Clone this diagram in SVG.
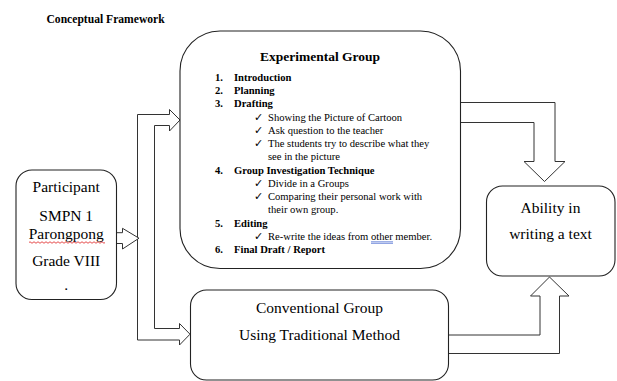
<svg xmlns="http://www.w3.org/2000/svg" width="617" height="381" viewBox="0 0 617 381">
<style>
.box{fill:#fff;stroke:#222;stroke-width:1.1}
.arr{fill:#fff;stroke:#333;stroke-width:1}
.t{font-family:"Liberation Serif","Times New Roman",serif;fill:#000}
.big{font-size:15.5px;text-anchor:middle}
.li{font-size:10.6px}
.b{font-weight:bold}
</style>
<rect width="617" height="381" fill="#fff"/>
<text class="t b" x="46.5" y="23" font-size="11.6">Conceptual Framework</text>

<g id="connectors">
<path class="arr" d="M137.5,340 L137.5,114.5 L169.5,114.5 L169.5,109.5 L180,120 L169.5,131 L169.5,125.5 L154.5,125.5 L154.5,328.5 L179.5,328.5 L179.5,323.5 L190,334.2 L179.5,345 L179.5,340 Z"/>
<path class="arr" d="M116.5,232.7 L122.5,232.7 L122.5,228.3 L139,238.2 L122.5,249 L122.5,243.5 L116.5,243.5"/>
<path class="arr" d="M460.5,102.5 L555,102.5 L555,161.5 L565,161.5 L544.5,181.5 L524,161.5 L534,161.5 L534,122.5 L460.5,122.5"/>
<path class="arr" d="M448.5,335 L540,335 L540,296 L530.5,296 L549.5,277 L569,296 L559.5,296 L559.5,353.5 L448.5,353.5"/>
</g>

<g id="participant">
<rect class="box" x="16" y="170" width="100.5" height="129.5" rx="16"/>
<text class="t big" x="66.2" y="192.3">Participant</text>
<text class="t big" x="66.2" y="220.7">SMPN 1</text>
<text class="t big" x="66.2" y="239">Parongpong</text>
<path d="M29,242.5 q1,-1.5 2,0 t2,0 t2,0 t2,0 t2,0 t2,0 t2,0 t2,0 t2,0 t2,0 t2,0 t2,0 t2,0 t2,0 t2,0 t2,0 t2,0 t2,0 t2,0 t2,0 t2,0 t2,0 t2,0 t2,0 t2,0 t2,0 t2,0 t2,0 t2,0 t2,0 t2,0 t2,0 t2,0 t2,0 t2,0 t2,0 t2,0 t2,0" fill="none" stroke="#e02020" stroke-width="0.8"/>
<text class="t big" x="66.2" y="265.7">Grade VIII</text>
<text class="t big" x="66.2" y="290">.</text>
</g>

<g id="experimental">
<rect class="box" x="180" y="31" width="280.5" height="237.5" rx="40"/>
<text class="t b" x="320" y="60.5" font-size="13.5" text-anchor="middle">Experimental Group</text>
<g class="t li">
<text class="b" x="215" y="80.8">1.</text><text class="b" x="234" y="80.8">Introduction</text>
<text class="b" x="215" y="94">2.</text><text class="b" x="234" y="94">Planning</text>
<text class="b" x="215" y="107.3">3.</text><text class="b" x="234" y="107.3">Drafting</text>
<text x="254" y="120.5">✓</text><text x="268" y="120.5">Showing the Picture of Cartoon</text>
<text x="254" y="133.8">✓</text><text x="268" y="133.8">Ask question to the teacher</text>
<text x="254" y="147">✓</text><text x="268" y="147">The students try to describe what they</text>
<text x="268" y="160.3">see in the picture</text>
<text class="b" x="215" y="173.5">4.</text><text class="b" x="234" y="173.5">Group Investigation Technique</text>
<text x="254" y="186.8">✓</text><text x="268" y="186.8">Divide in a Groups</text>
<text x="254" y="200">✓</text><text x="268" y="200">Comparing their personal work with</text>
<text x="268" y="213.3">their own group.</text>
<text class="b" x="215" y="226.5">5.</text><text class="b" x="234" y="226.5">Editing</text>
<text x="254" y="239.8">✓</text><text x="268" y="239.8">Re-write the ideas from other member.</text>
<text class="b" x="215" y="253">6.</text><text class="b" x="234" y="253">Final Draft / Report</text>
</g>
<path d="M371,241.8 H393 M371,243.3 H393" stroke="#3a5fcd" stroke-width="0.7" fill="none"/>
</g>

<g id="conventional">
<rect class="box" x="190.5" y="290" width="258" height="90" rx="16"/>
<text class="t big" x="319.5" y="313.3">Conventional Group</text>
<text class="t big" x="319.5" y="340">Using Traditional Method</text>
</g>

<g id="ability">
<rect class="box" x="486.5" y="186" width="128.5" height="90" rx="16"/>
<text class="t big" x="550.5" y="212.5">Ability in</text>
<text class="t big" x="550.5" y="238.5">writing a text</text>
</g>
</svg>
